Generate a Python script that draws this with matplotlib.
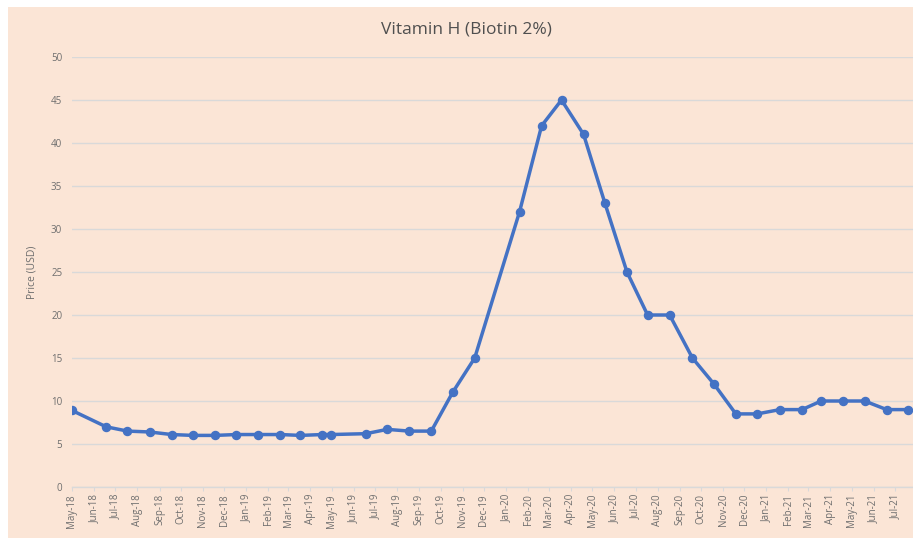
import matplotlib
matplotlib.use("Agg")
import matplotlib.pyplot as plt
import matplotlib.dates as mdates
import matplotlib.patches as mpatches
import pandas as pd

# ---- data ----
dates = ["2018-05-01", "2018-06-18", "2018-07-18", "2018-08-18", "2018-09-18",
         "2018-10-18", "2018-11-18", "2018-12-18", "2019-01-18", "2019-02-18",
         "2019-03-18", "2019-04-18", "2019-04-30", "2019-06-18", "2019-07-18",
         "2019-08-18", "2019-09-18", "2019-10-18", "2019-11-18", "2020-01-20",
         "2020-02-20", "2020-03-19", "2020-04-19", "2020-05-19", "2020-06-19",
         "2020-07-18", "2020-08-18", "2020-09-19", "2020-10-19", "2020-11-19",
         "2020-12-19", "2021-01-20", "2021-02-20", "2021-03-19", "2021-04-19",
         "2021-05-19", "2021-06-19", "2021-07-19"]
prices = [8.9, 7.0, 6.5, 6.4, 6.1,
          6.0, 6.0, 6.1, 6.1, 6.1,
          6.0, 6.1, 6.1, 6.2, 6.7,
          6.5, 6.5, 11.0, 15.0, 32.0,
          42.0, 45.0, 41.0, 33.0, 25.0,
          20.0, 20.0, 15.0, 12.0, 8.5,
          8.5, 9.0, 9.0, 10.0, 10.0,
          10.0, 9.0, 9.0]
title = "Vitamin H (Biotin 2%)"
y_label = "Price (USD)"
y_ticks = [0, 5, 10, 15, 20, 25, 30, 35, 40, 45, 50]

x = pd.to_datetime(dates)

plt.rcParams['font.family'] = ['Open Sans', 'DejaVu Sans']

bg = "#FBE5D6"
grey = "#6E6E6E"
fig = plt.figure(figsize=(9.13, 5.38), dpi=100)
fig.patch.set_facecolor("white")
# chart area background (white margin at top/left)
fig.patches.append(mpatches.Rectangle((8 / 913, 0), 1 - 8 / 913, 1 - 7 / 538,
                                      transform=fig.transFigure, facecolor=bg,
                                      edgecolor="none", zorder=-10))

ax = fig.add_axes([72 / 913, 1 - 487 / 538, 1 - 72 / 913, (487 - 57) / 538])
ax.set_facecolor(bg)

ax.plot(x, prices, color="#4472C4", lw=2.5, marker="o", markersize=5.8,
        solid_joinstyle="round", zorder=3)

ax.set_ylim(0, 50)
ax.set_yticks(y_ticks)
ax.set_xlim(pd.Timestamp("2018-05-01"), pd.Timestamp("2021-07-26"))
ax.xaxis.set_major_locator(mdates.MonthLocator(bymonthday=1))
ax.xaxis.set_major_formatter(mdates.DateFormatter("%b-%y"))

ax.grid(axis="y", color="#D9D9D9", lw=1.0)
ax.set_axisbelow(True)
for s in ["top", "right", "left"]:
    ax.spines[s].set_visible(False)
ax.spines["bottom"].set_color("#D9D9D9")
ax.spines["bottom"].set_linewidth(1.0)

ax.tick_params(axis="y", length=0, labelsize=7, labelcolor=grey, pad=7)
ax.tick_params(axis="x", length=3, color="#D9D9D9", labelsize=7,
               labelcolor=grey, labelrotation=90, pad=2)

ax.set_ylabel(y_label, fontsize=7.5, color=grey, labelpad=10)
fig.text(466 / 913, 1 - 29 / 538, title, ha="center", va="center",
         fontsize=12.5, color="#4F4F4F")

fig.savefig("out.png", dpi=100, facecolor=fig.get_facecolor())
